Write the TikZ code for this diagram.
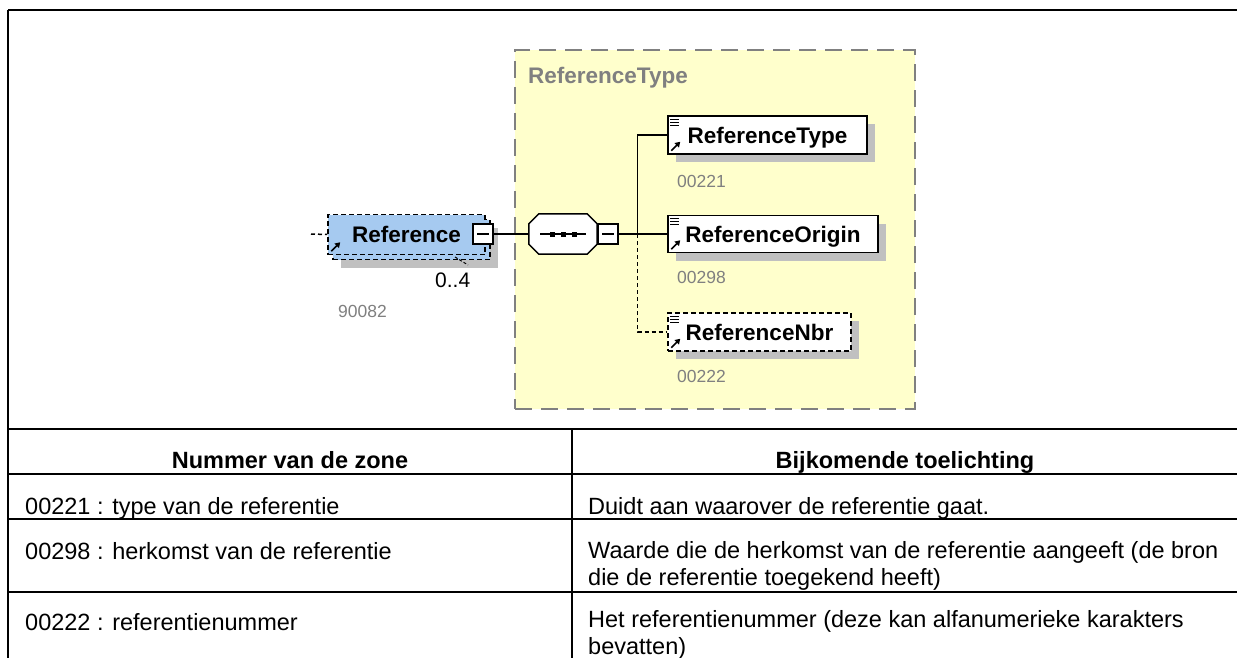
\documentclass[tikz,border=0pt]{standalone}
\usepackage{fontspec}
\setmainfont{Liberation Sans}
\usetikzlibrary{shadows,arrows.meta,calc}
\definecolor{ybox}{RGB}{255,255,204}
\definecolor{bluefill}{RGB}{166,202,240}
\definecolor{shadowgray}{RGB}{192,192,192}
\definecolor{labelgray}{RGB}{128,128,128}
\newcommand\arrowicon[1]{\draw[line width=1.6pt,-{Triangle[length=5pt,width=6pt]}] ($(#1.south west)+(4,-4)$) -- ($(#1.south west)+(13,-13)$);}
\newcommand\docicon[1]{\foreach \dy in {4,7,10} {\draw[line width=1.2pt] ($(#1.north west)+(3,\dy)$) -- ++(9,0);}}
\newcommand\minussign[1]{\draw[line width=1.3pt] ($(#1.center)+(-6,0)$) -- ($(#1.center)+(6,0)$);}
\newcommand\octpath[1]{($(#1.north west)+(10,0)$) -- ($(#1.north east)+(-10,0)$) -- ($(#1.north east)+(0,10)$) -- ($(#1.south east)+(0,-10)$) -- ($(#1.south east)+(-10,0)$) -- ($(#1.south west)+(10,0)$) -- ($(#1.south west)+(0,-10)$) -- ($(#1.north west)+(0,10)$) -- cycle}
\begin{document}
\begin{tikzpicture}[x=1pt,y=-1pt,
  shade/.style={drop shadow={shadow xshift=8pt,shadow yshift=-8pt,fill=shadowgray,opacity=1}},
  elem/.style={draw=black, line width=1.5pt, fill=white, inner sep=0pt, text height=16pt, text depth=0pt,
    font=\fontsize{22.5}{22.5}\selectfont\bfseries, shade},
  optelem/.style={elem, dash pattern=on 5pt off 3pt},
  refbox/.style={draw=black, line width=1.5pt, fill=bluefill, dash pattern=on 5pt off 3pt, inner sep=0pt,
    text height=16pt, text depth=0pt, font=\fontsize{22.5}{22.5}\selectfont\bfseries, minimum width=157pt, minimum height=40pt},
  minusbox/.style={draw=black, fill=white, line width=1.3pt, minimum width=20pt, minimum height=20pt, inner sep=0pt},
  seqframe/.style={minimum width=68pt, minimum height=40pt, inner sep=0pt},
  numlbl/.style={anchor=base west, inner sep=0pt, text=labelgray, font=\fontsize{17.5}{17.5}\selectfont},
  conn/.style={line width=1.5pt},
  optconn/.style={line width=1.5pt, dash pattern=on 4pt off 3pt},
  tabline/.style={line width=2pt},
  tabtxt/.style={anchor=base west, inner sep=0pt, font=\fontsize{23.5}{23.5}\selectfont},
  tabhead/.style={anchor=base, inner sep=0pt, font=\bfseries\fontsize{23.5}{23.5}\selectfont}
]
\useasboundingbox (0,0) rectangle (1237,658);
\fill[white] (0,0) rectangle (1237,658);

% yellow complex type box
\node[draw=labelgray, fill=ybox, line width=2pt, dash pattern=on 17pt off 9pt, minimum width=400pt, minimum height=359pt, inner sep=0pt] (ctype) at (715,229.5) {};
\node[anchor=base west, inner sep=0pt, text=labelgray, font=\fontsize{22.5}{22.5}\selectfont\bfseries] (ctypelbl) at (528,84) {ReferenceType};

% Reference element (multiple occurrence)
\node[refbox, shade] (refback) at (411.5,239.5) {};
\node[refbox] (ref) at (406.5,234.5) {Reference};
\arrowicon{ref}
\node[minusbox] (refminus) at (483,234) {};
\minussign{refminus}
\draw[line width=1pt, dash pattern=on 3pt off 2pt] (455,257) -- (468,265);
\node[anchor=base west, inner sep=0pt, font=\fontsize{21}{21}\selectfont] (occ) at (435,287) {0..4};
\node[numlbl] (n90082) at (338,317) {90082};
\coordinate (leftend) at (311,234);
\draw[optconn] (leftend) -- (ref.west);

% sequence compositor
\node[seqframe] (seq) at (563,234) {};
\fill[shadowgray, shift={(8,8)}] \octpath{seq};
\draw[line width=1.5pt, fill=white] \octpath{seq};
\draw[line width=1.5pt] ($(seq.center)+(-23,0)$) -- ($(seq.center)+(23,0)$);
\foreach \dx in {-11,0,11} {\fill ($(seq.center)+(\dx-2.5,-2.5)$) rectangle ($(seq.center)+(\dx+2.5,2.5)$);}
\node[minusbox] (seqminus) at (608,234) {};
\minussign{seqminus}
\draw[conn] (refminus.east) -- (seq.west);

% child elements
\node[elem, minimum width=199pt, minimum height=38pt] (rtype) at (767.5,135) {ReferenceType};
\docicon{rtype}\arrowicon{rtype}
\node[numlbl] (n00221) at (677,187) {00221};

\node[elem, minimum width=210pt, minimum height=37pt] (rorig) at (773,234) {ReferenceOrigin};
\docicon{rorig}\arrowicon{rorig}
\node[numlbl] (n00298) at (677,283) {00298};

\node[optelem, minimum width=183pt, minimum height=38pt] (rnbr) at (759.5,332) {ReferenceNbr};
\docicon{rnbr}\arrowicon{rnbr}
\node[numlbl] (n00222) at (677,382) {00222};

\coordinate (trunk) at (637.5,234);
\draw[conn] (seqminus.east) -- (rorig.west);
\draw[conn] (trunk) |- (rtype.west);
\draw[optconn] (trunk) |- (rnbr.west);

% frame and table
\draw[line width=2.5pt] (8,10) -- (1237,10);
\draw[line width=2.5pt] (8,10) -- (8,658);
\foreach \yy in {429,474,519,592} {\draw[tabline] (8,\yy) -- (1237,\yy);}
\draw[tabline] (572,429) -- (572,658);

\node[tabhead] (h1) at (290,468) {Nummer van de zone};
\node[tabhead] (h2) at (905,468) {Bijkomende toelichting};
\node[tabtxt] (c11) at (25,514) {00221 : type van de referentie};
\node[tabtxt] (c12) at (588,514) {Duidt aan waarover de referentie gaat.};
\node[tabtxt] (c21) at (25,559) {00298 : herkomst van de referentie};
\node[tabtxt] (c22a) at (588,558) {Waarde die de herkomst van de referentie aangeeft (de bron};
\node[tabtxt] (c22b) at (588,585) {die de referentie toegekend heeft)};
\node[tabtxt] (c31) at (25,630) {00222 : referentienummer};
\node[tabtxt] (c32a) at (588,627) {Het referentienummer (deze kan alfanumerieke karakters};
\node[tabtxt] (c32b) at (588,654) {bevatten)};
\end{tikzpicture}
\end{document}
